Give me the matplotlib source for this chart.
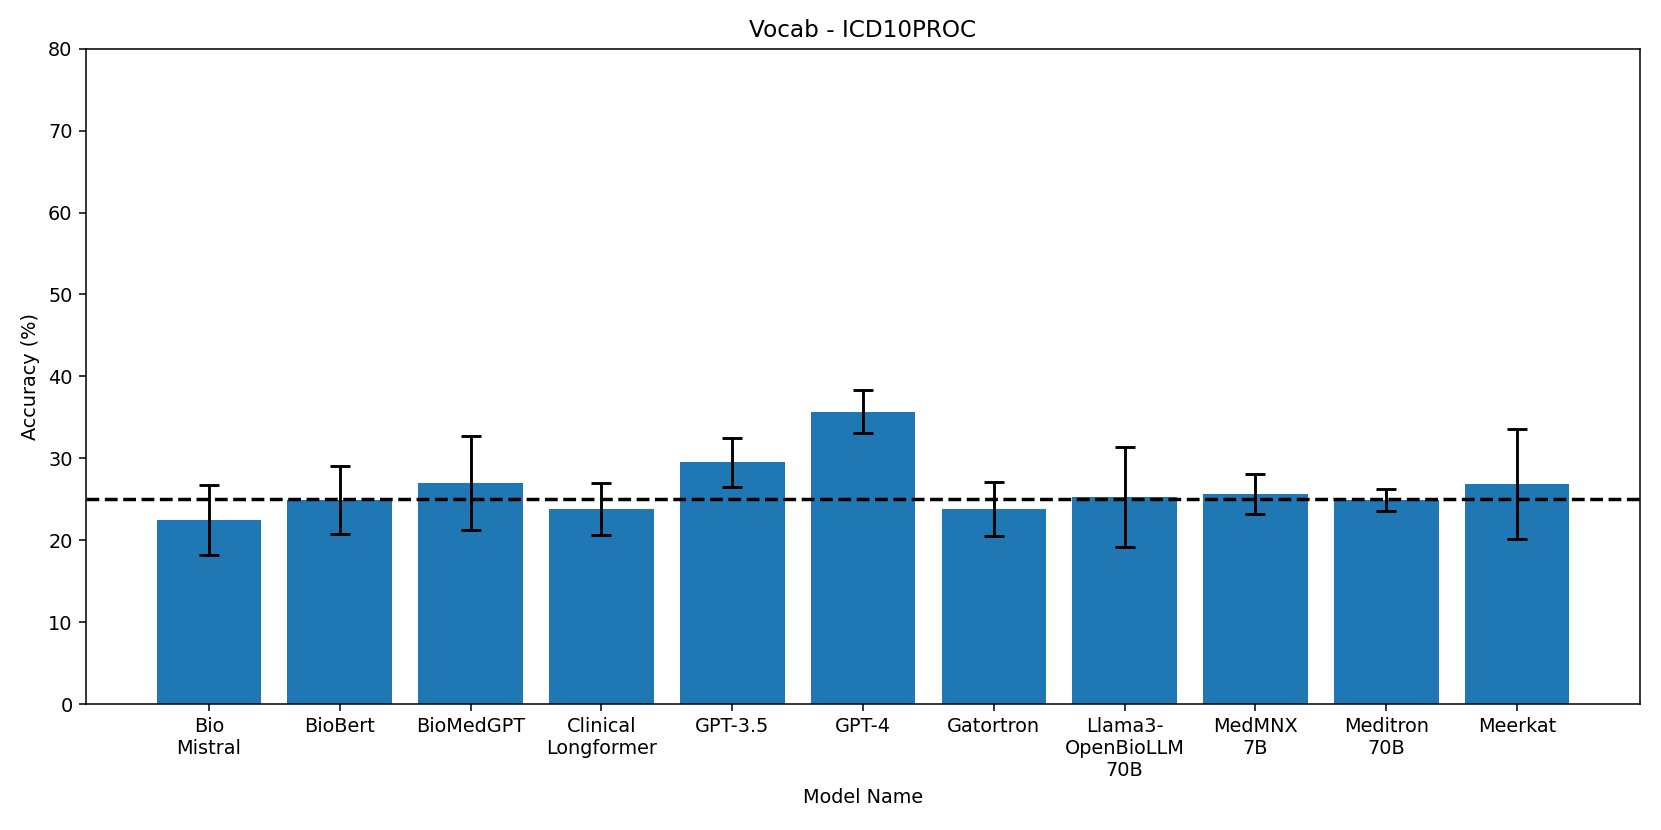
import matplotlib
matplotlib.use("Agg")
import matplotlib.pyplot as plt
import numpy as np

models = ["Bio\nMistral", "BioBert", "BioMedGPT", "Clinical\nLongformer", "GPT-3.5",
          "GPT-4", "Gatortron", "Llama3-\nOpenBioLLM\n70B", "MedMNX\n7B", "Meditron\n70B", "Meerkat"]
accuracy = [22.5, 24.9, 27.0, 23.8, 29.5, 35.7, 23.8, 25.3, 25.6, 24.9, 26.9]
errors = [4.25, 4.2, 5.7, 3.2, 3.0, 2.65, 3.3, 6.1, 2.45, 1.3, 6.7]
chance_level = 25

dpi = 138.4
fig = plt.figure(figsize=(1661 / dpi, 830 / dpi), dpi=dpi)
ax = fig.add_subplot(111)
fig.subplots_adjust(left=0.0518, right=0.9874, top=0.9413, bottom=0.1518)

x = np.arange(len(models))
ax.bar(x, accuracy, yerr=errors, capsize=5, color="#1f77b4",
       error_kw=dict(elinewidth=1.5, capthick=1.5, ecolor="black"))
ax.axhline(chance_level, color="black", linestyle="--", linewidth=1.8)
ax.set_xticks(x)
ax.set_xticklabels(models)
ax.set_ylim(0, 80)
ax.set_xlabel("Model Name")
ax.set_ylabel("Accuracy (%)")
ax.set_title("Vocab - ICD10PROC")

fig.savefig("out.png", dpi=dpi)
